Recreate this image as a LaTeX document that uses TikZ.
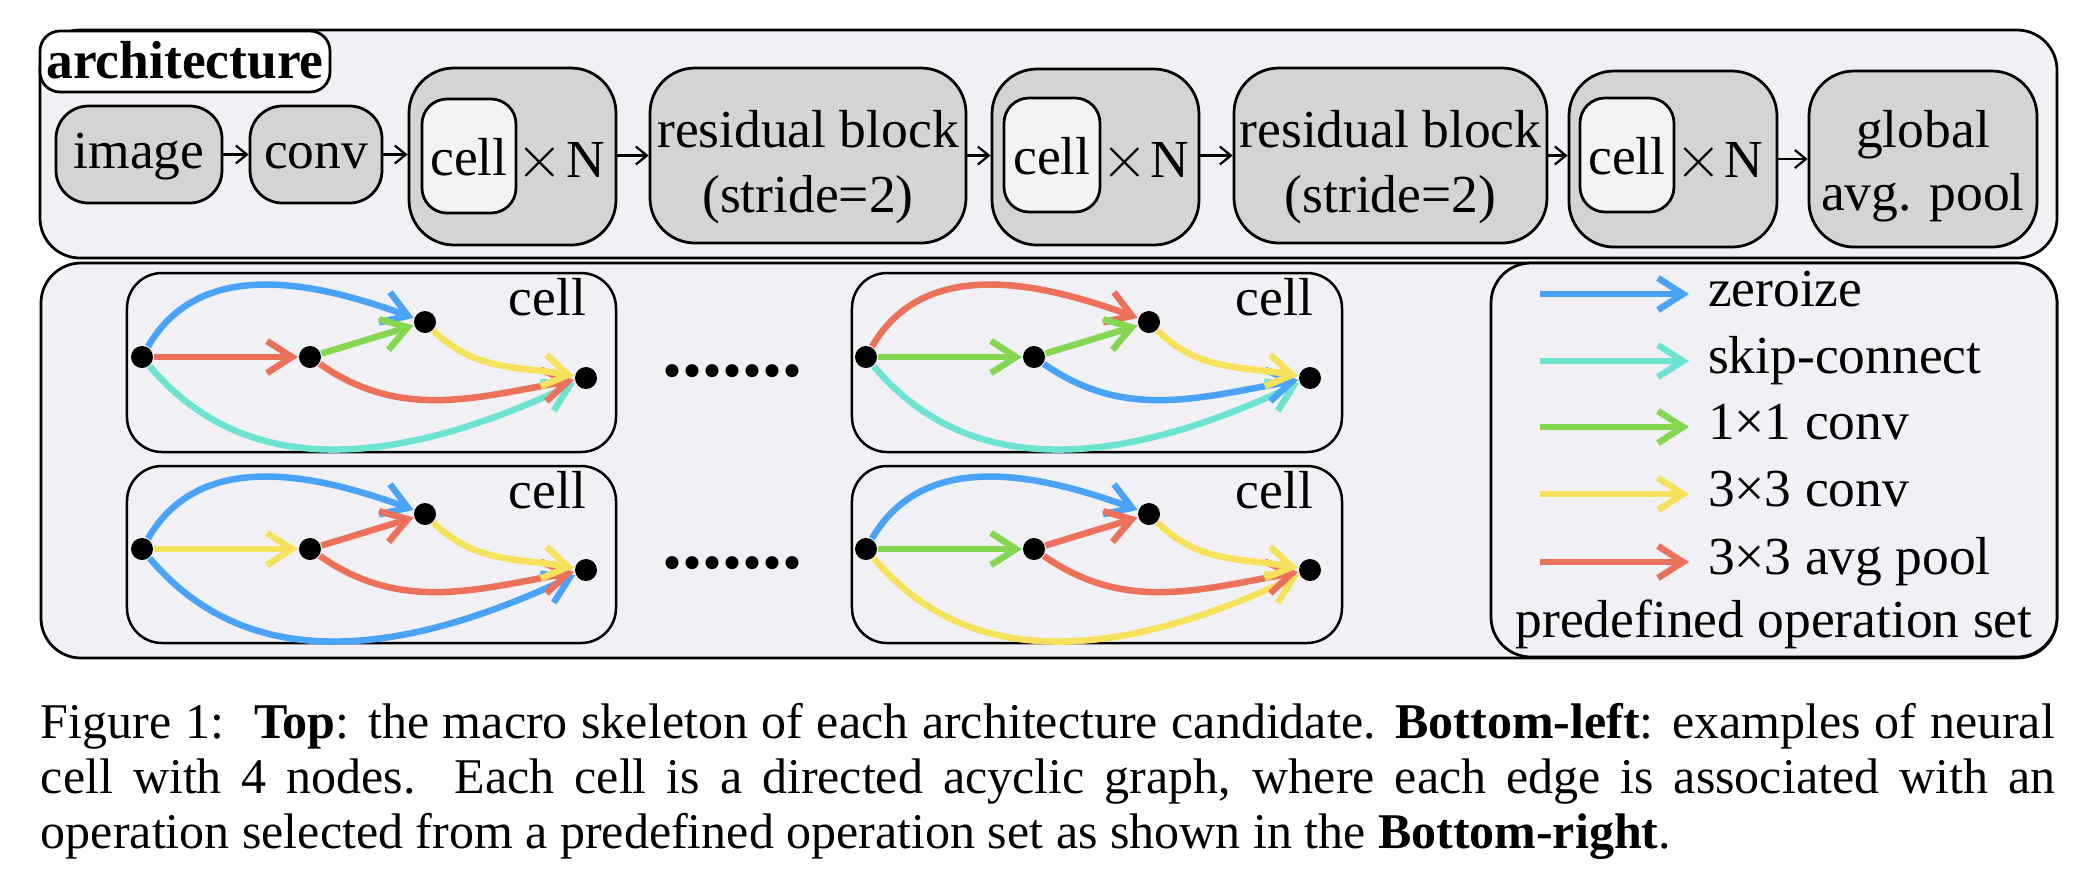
\documentclass[tikz,border=0pt]{standalone}
\usepackage{fontspec}
\setmainfont{Liberation Serif}
\usetikzlibrary{arrows.meta}
\definecolor{bgc}{HTML}{F1F1F5}
\definecolor{boxg}{HTML}{D4D4D4}
\definecolor{cellc}{HTML}{F3F3F5}
\definecolor{opblue}{HTML}{4BA3F7}
\definecolor{opcyan}{HTML}{6EE3D1}
\definecolor{opgreen}{HTML}{85D651}
\definecolor{opyellow}{HTML}{F5E15B}
\definecolor{opred}{HTML}{EC715A}
\newcommand\mainfs{\fontsize{10.7pt}{12.8pt}\selectfont}
\newcommand\bigtimes{{\fontsize{12.5pt}{12.5pt}\selectfont$\times$}}
\newcommand\nascell[9]{%
  \node[dotn] (#1a) at ({142+#2},{-357-#3}) {};
  \node[dotn] (#1b) at ({310+#2},{-357-#3}) {};
  \node[dotn] (#1c) at ({425+#2},{-322-#3}) {};
  \node[dotn] (#1d) at ({586+#2},{-378-#3}) {};
  \draw[op,#9] (#1a) to[out=-50,in=205] (#1d);
  \draw[op,#8] (#1b) to[out=-35,in=190] (#1d);
  \draw[op,#7] (#1c) to[out=-45,in=170] (#1d);
  \draw[op,#6] (#1a) to[out=60,in=160] (#1c);
  \draw[op,#4] (#1a) -- (#1b);
  \draw[op,#5] (#1b) -- (#1c);
}
\begin{document}
\begin{tikzpicture}[x=0.2pt,y=0.2pt,
  bgbox/.style={draw, line width=0.55pt, fill=bgc, rounded corners=8pt, inner sep=0pt},
  gbox/.style={draw, line width=0.55pt, fill=boxg, rounded corners=6.5pt, inner sep=0pt, font=\mainfs},
  wbox/.style={draw, line width=0.55pt, fill=cellc, rounded corners=5pt, inner sep=0pt, font=\mainfs, text height=7.6pt, text depth=0pt},
  cellbox/.style={draw, line width=0.5pt, fill=bgc, rounded corners=7pt, inner sep=0pt},
  dotn/.style={circle, fill=black, inner sep=0pt, minimum size=4.4pt},
  op/.style={line width=1.3pt, -{Straight Barb[length=5pt,width=6.4pt]}},
  link/.style={line width=0.45pt, -{Straight Barb[length=2.2pt,width=3.6pt]}},
  txt/.style={inner sep=0pt, font=\mainfs}
]
\useasboundingbox (0,0) rectangle (2098,-870);

% ---------- top: architecture ----------
\node[bgbox, minimum width=403.4pt, minimum height=45.6pt] (arch) at (1048.5,-144) {};
\node[draw, line width=0.55pt, fill=white, rounded corners=4pt, inner sep=0pt,
      minimum width=58pt, minimum height=12.2pt, font=\mainfs\bfseries,
      text height=6.6pt, text depth=0pt] (archlbl) at (185,-61.5) {architecture};

\node[gbox, minimum width=33.2pt, minimum height=19.4pt, text height=5.4pt, text depth=0pt] (img) at (139,-154.5) {image};
\node[gbox, minimum width=26.4pt, minimum height=19.4pt, text height=5.4pt, text depth=0pt] (conv) at (316,-154.5) {conv};

\node[gbox, rounded corners=9pt, minimum width=41.4pt, minimum height=35.4pt] (cn1) at (512.5,-156.5) {};
\node[wbox, minimum width=18.8pt, minimum height=22.8pt] (in1) at (469,-156) {cell};
\node[txt, anchor=base west] (x1) at (516,-177) {\bigtimes\kern0.6pt N};

\node[gbox, rounded corners=9pt, minimum width=63.2pt, minimum height=35pt] (res1) at (808,-155.5) {};
\node[txt, anchor=base] (res1a) at (808,-147) {residual block};
\node[txt, anchor=base] (res1b) at (808,-212) {(stride=2)};

\node[gbox, rounded corners=9pt, minimum width=41.4pt, minimum height=35.2pt] (cn2) at (1095.5,-157) {};
\node[wbox, minimum width=19.2pt, minimum height=22.8pt] (in2) at (1052,-155) {cell};
\node[txt, anchor=base west] (x2) at (1100,-177) {\bigtimes\kern0.6pt N};

\node[gbox, rounded corners=9pt, minimum width=62.6pt, minimum height=35pt] (res2) at (1390.5,-155.5) {};
\node[txt, anchor=base] (res2a) at (1390.5,-147) {residual block};
\node[txt, anchor=base] (res2b) at (1390.5,-212) {(stride=2)};

\node[gbox, rounded corners=9pt, minimum width=41.6pt, minimum height=35.2pt] (cn3) at (1673,-159) {};
\node[wbox, minimum width=18.8pt, minimum height=22.8pt] (in3) at (1627,-155) {cell};
\node[txt, anchor=base west] (x3) at (1674,-177) {\bigtimes\kern0.6pt N};

\node[gbox, rounded corners=9pt, minimum width=45.6pt, minimum height=35.2pt] (glob) at (1923,-159) {};
\node[txt, anchor=base] (globa) at (1923,-147) {global};
\node[txt, anchor=base] (globb) at (1923,-210) {avg. pool};

\draw[link] (img.east) -- (img.east -| conv.west);
\draw[link] (conv.east) -- (conv.east -| cn1.west);
\draw[link] (cn1.east |- res1.center) -- (res1.west);
\draw[link] (res1.east) -- (res1.east -| cn2.west);
\draw[link] (cn2.east |- res2.center) -- (res2.west);
\draw[link] (res2.east) -- (res2.east -| cn3.west);
\draw[link] (cn3.east) -- (cn3.east -| glob.west);

% ---------- bottom ----------
\node[bgbox, minimum width=403.2pt, minimum height=79pt] (low) at (1049,-460.5) {};
\node[bgbox, minimum width=113.2pt, minimum height=78.8pt] (legend) at (1774,-460) {};

\node[cellbox, minimum width=97.8pt, minimum height=35.8pt] (cellTL) at (371.5,-362.5) {};
\node[cellbox, minimum width=97.8pt, minimum height=35.4pt] (cellBL) at (371.5,-554.5) {};
\node[cellbox, minimum width=98pt, minimum height=35.8pt] (cellTR) at (1097,-362.5) {};
\node[cellbox, minimum width=98pt, minimum height=35.4pt] (cellBR) at (1097,-554.5) {};

\node[txt, anchor=base east] (lTL) at (587,-315) {cell};
\node[txt, anchor=base east] (lBL) at (587,-508) {cell};
\node[txt, anchor=base east] (lTR) at (1314,-315) {cell};
\node[txt, anchor=base east] (lBR) at (1314,-508) {cell};

\nascell{tl}{0}{0}{opred}{opgreen}{opblue}{opyellow}{opred}{opcyan}
\nascell{bl}{0}{192}{opyellow}{opred}{opblue}{opyellow}{opred}{opblue}
\nascell{tr}{724}{0}{opgreen}{opgreen}{opred}{opyellow}{opblue}{opcyan}
\nascell{br}{724}{192}{opgreen}{opred}{opblue}{opyellow}{opred}{opyellow}

\node[anchor=base west, inner sep=0pt, font=\fontsize{16pt}{16pt}\selectfont\bfseries] (dots1) at (661,-376) {.......};
\node[anchor=base west, inner sep=0pt, font=\fontsize{16pt}{16pt}\selectfont\bfseries] (dots2) at (661,-568) {.......};

% legend
\coordinate (a1) at (1540,-294); \coordinate (b1) at (1689,-294);
\coordinate (a2) at (1540,-361); \coordinate (b2) at (1689,-361);
\coordinate (a3) at (1540,-427); \coordinate (b3) at (1689,-427);
\coordinate (a4) at (1540,-494); \coordinate (b4) at (1689,-494);
\coordinate (a5) at (1540,-562); \coordinate (b5) at (1689,-562);
\draw[op,opblue] (a1) -- (b1);
\draw[op,opcyan] (a2) -- (b2);
\draw[op,opgreen] (a3) -- (b3);
\draw[op,opyellow] (a4) -- (b4);
\draw[op,opred] (a5) -- (b5);
\node[txt, anchor=base west] (t1) at (1707,-306) {zeroize};
\node[txt, anchor=base west] (t2) at (1707,-373) {skip-connect};
\node[txt, anchor=base west] (t3) at (1707,-439) {1×1 conv};
\node[txt, anchor=base west] (t4) at (1707,-506) {3×3 conv};
\node[txt, anchor=base west] (t5) at (1707,-574) {3×3 avg pool};
\node[txt, anchor=base] (t6) at (1774,-637) {predefined operation set};

% ---------- caption ----------
\node[anchor=north west, inner sep=0pt, text width=402.8pt, align=justify,
      font=\fontsize{10pt}{11pt}\selectfont] (cap) at (40,-702)
{Figure~1:\hskip6pt\textbf{Top}: the macro skeleton of each architecture candidate. \textbf{Bottom-left}: examples of neural\linebreak
cell with 4 nodes. Each cell is a directed acyclic graph, where each edge is associated with an\linebreak
operation selected from a predefined operation set as shown in the \textbf{Bottom-right}.};
\end{tikzpicture}
\end{document}
